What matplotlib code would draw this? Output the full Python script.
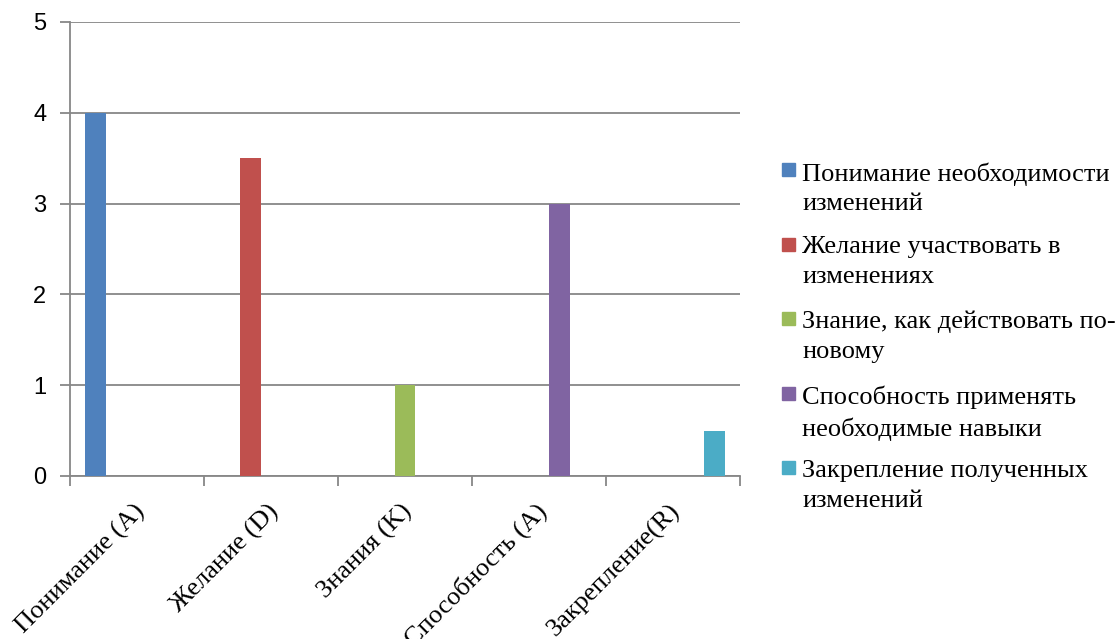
import matplotlib
matplotlib.use("Agg")
import matplotlib.pyplot as plt
from matplotlib.patches import Rectangle
from matplotlib.transforms import ScaledTranslation
import numpy as np

categories = ["Понимание (А)", "Желание (D)", "Знания (K)", "Способность (А)", "Закрепление(R)"]
series_names = [
    "Понимание необходимости\nизменений",
    "Желание участвовать в\nизменениях",
    "Знание, как действовать по-\nновому",
    "Способность применять\nнеобходимые навыки",
    "Закрепление полученных\nизменений",
]
understanding = [4, 0, 0, 0, 0]
desire = [0, 3.5, 0, 0, 0]
knowledge = [0, 0, 1, 0, 0]
ability = [0, 0, 0, 3, 0]
reinforcement = [0, 0, 0, 0, 0.5]
series_values = [understanding, desire, knowledge, ability, reinforcement]
colors = ["#4F81BD", "#C0504D", "#9BBB59", "#8064A2", "#4BACC6"]
y_ticks = [0, 1, 2, 3, 4, 5]

W, H = 1120, 639
fig = plt.figure(figsize=(W / 100, H / 100), dpi=100)
ax = fig.add_axes([70 / W, 1 - 476 / H, 670 / W, 454 / H])

n = len(series_values)
gap = 1.5
bw = 1 / (n + gap)
x = np.arange(len(categories))
for j, (vals, c) in enumerate(zip(series_values, colors)):
    ax.bar(x + (j - (n - 1) / 2) * bw, vals, width=bw, color=c, zorder=3)

ax.set_xlim(-0.5, len(categories) - 0.5)
ax.set_ylim(0, 5)
ax.set_yticks(y_ticks)
ax.set_yticklabels([str(v) for v in y_ticks], family="Liberation Sans", fontsize=17)
grid_c = "#878787"
ax.grid(axis="y", color=grid_c, linewidth=1.3, zorder=0)
for s in ["top", "right"]:
    ax.spines[s].set_visible(False)
for s in ["left", "bottom"]:
    ax.spines[s].set_color(grid_c)
    ax.spines[s].set_linewidth(1.3)
ax.tick_params(axis="y", length=7, width=1.3, color=grid_c, pad=10)

ax.set_xticks(x)
ax.set_xticklabels(categories, rotation=45, ha="right", va="center",
                   rotation_mode="anchor", family="Liberation Serif", fontsize=19)
ax.tick_params(axis="x", which="major", length=0, pad=23)
shift = ScaledTranslation(4 / 100, 0, fig.dpi_scale_trans)
for lbl in ax.get_xticklabels():
    lbl.set_transform(lbl.get_transform() + shift)
ax.set_xticks(np.arange(-0.5, len(categories)), minor=True)
ax.tick_params(axis="x", which="minor", length=7, width=1.3, color=grid_c)

# legend drawn beside the plot
y0 = 163
step = 74.5
for j, (name, c) in enumerate(zip(series_names, colors)):
    top = y0 + j * step
    fig.add_artist(Rectangle((782 / W, 1 - (top + 13) / H), 13 / W, 13 / H,
                             transform=fig.transFigure, color=c))
    fig.text(802 / W, 1 - (top - 1) / H, name, va="top", ha="left",
             family="Liberation Serif", fontsize=19, linespacing=1.45)

fig.savefig("out.png", dpi=100, facecolor="white")
